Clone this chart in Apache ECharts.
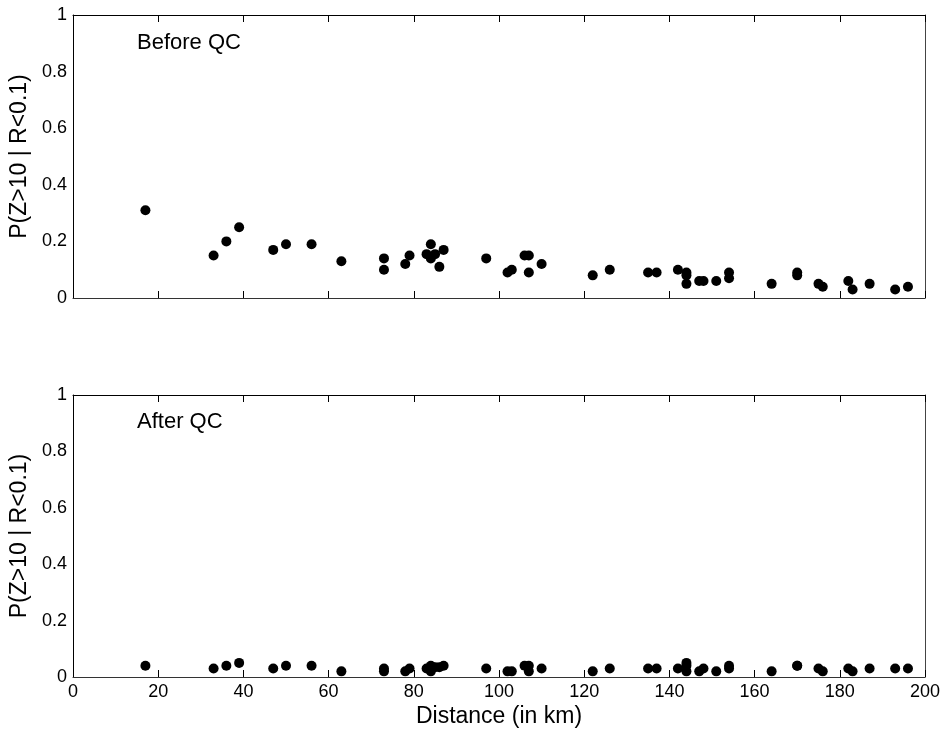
<!DOCTYPE html>
<html>
<head>
<meta charset="utf-8">
<script src="https://cdn.jsdelivr.net/npm/echarts@6/dist/echarts.min.js"></script>
<style>
  html, body { margin: 0; padding: 0; background: #fff; }
  #chart { width: 945px; height: 733px; }
</style>
</head>
<body>
<div id="chart"></div>
<script>
// Station distance from the radar (km)
const distanceKm = [
  17, 33, 36, 39, 47, 50, 56, 63, 73, 73,
  78, 79, 83, 84, 84, 85, 86, 87, 97, 102,
  103, 106, 107, 107, 110, 122, 126, 135, 137, 142,
  144, 144, 144, 147, 148, 151, 154, 154, 164, 170,
  170, 175, 176, 182, 183, 187, 193, 196
];

// P(Z>10 | R<0.1) per station before quality control
const probBeforeQC = [
  0.31, 0.15, 0.20, 0.25, 0.17, 0.19, 0.19, 0.13, 0.14, 0.10,
  0.12, 0.15, 0.155, 0.19, 0.14, 0.155, 0.11, 0.17, 0.14, 0.09,
  0.10, 0.15, 0.15, 0.09, 0.12, 0.08, 0.10, 0.09, 0.09, 0.10,
  0.09, 0.08, 0.05, 0.06, 0.06, 0.06, 0.09, 0.07, 0.05, 0.09,
  0.08, 0.05, 0.04, 0.06, 0.03, 0.05, 0.03, 0.04
];

// P(Z>10 | R<0.1) per station after quality control
const probAfterQC = [
  0.04, 0.03, 0.04, 0.05, 0.03, 0.04, 0.04, 0.02, 0.03, 0.02,
  0.02, 0.03, 0.03, 0.04, 0.02, 0.035, 0.035, 0.04, 0.03, 0.02,
  0.02, 0.04, 0.04, 0.02, 0.03, 0.02, 0.03, 0.03, 0.03, 0.03,
  0.05, 0.04, 0.02, 0.02, 0.03, 0.02, 0.04, 0.03, 0.02, 0.04,
  0.04, 0.03, 0.02, 0.03, 0.02, 0.03, 0.03, 0.03
];

const panelTitles = ['Before QC', 'After QC'];
const yAxisTitle = 'P(Z>10 | R<0.1)';
const xAxisTitle = 'Distance (in km)';

const FONT = '"Liberation Sans", Arial, Helvetica, sans-serif';
const INK = '#000';

function pairs(xs, ys) {
  return xs.map((x, i) => [x, ys[i]]);
}

const grids = [
  { left: 73, right: 20, top: 15, height: 283 },
  { left: 73, right: 20, top: 395, height: 282 }
];

const xAxes = [];
const yAxes = [];
grids.forEach((g, gi) => {
  const isLast = gi === grids.length - 1;
  // bottom x axis
  xAxes.push({
    type: 'value', gridIndex: gi, position: 'bottom', min: 0, max: 200, interval: 20,
    axisLine: { show: true, onZero: false, lineStyle: { color: '#333', width: 1 } },
    axisTick: { show: true, inside: true, length: 7, lineStyle: { color: INK } },
    axisLabel: { show: isLast, color: INK, fontFamily: FONT, fontSize: 18, margin: 6 },
    splitLine: { show: false },
    name: isLast ? xAxisTitle : '', nameLocation: 'middle', nameGap: 28,
    nameTextStyle: { color: INK, fontFamily: FONT, fontSize: 23 }
  });
  // top frame x axis
  xAxes.push({
    type: 'value', gridIndex: gi, position: 'top', min: 0, max: 200, interval: 20,
    axisLine: { show: true, onZero: false, lineStyle: { color: INK, width: 1 } },
    axisTick: { show: true, inside: true, length: 7, lineStyle: { color: INK } },
    axisLabel: { show: false },
    splitLine: { show: false }
  });
  // left y axis
  yAxes.push({
    type: 'value', gridIndex: gi, position: 'left', min: 0, max: 1, interval: 0.2,
    axisLine: { show: true, onZero: false, lineStyle: { color: INK, width: 1 } },
    axisTick: { show: false },
    axisLabel: { show: true, color: INK, fontFamily: FONT, fontSize: 18, margin: 6,
      formatter: v => (v === 0 || v === 1) ? String(v) : v.toFixed(1) },
    splitLine: { show: false },
    name: yAxisTitle, nameLocation: 'middle', nameGap: 30, nameRotate: 90,
    nameTextStyle: { color: INK, fontFamily: FONT, fontSize: 23 }
  });
  // right frame y axis
  yAxes.push({
    type: 'value', gridIndex: gi, position: 'right', min: 0, max: 1, interval: 0.2,
    axisLine: { show: true, onZero: false, lineStyle: { color: '#444', width: 1 } },
    axisTick: { show: false },
    axisLabel: { show: false },
    splitLine: { show: false }
  });
});

const series = [probBeforeQC, probAfterQC].map((vals, gi) => ({
  type: 'scatter',
  xAxisIndex: gi * 2,
  yAxisIndex: gi * 2,
  symbol: 'circle',
  symbolSize: 10,
  itemStyle: { color: INK, opacity: 1 },
  data: pairs(distanceKm, vals)
}));

const chart = echarts.init(document.getElementById('chart'), null, { renderer: 'canvas' });
chart.setOption({
  animation: false,
  backgroundColor: '#fff',
  grid: grids,
  xAxis: xAxes,
  yAxis: yAxes,
  graphic: panelTitles.map((t, gi) => ({
    type: 'text',
    left: 137,
    top: gi === 0 ? 32 : 411,
    style: { text: t, fill: INK, font: '22px ' + FONT }
  })),
  series: series
});
</script>
</body>
</html>
